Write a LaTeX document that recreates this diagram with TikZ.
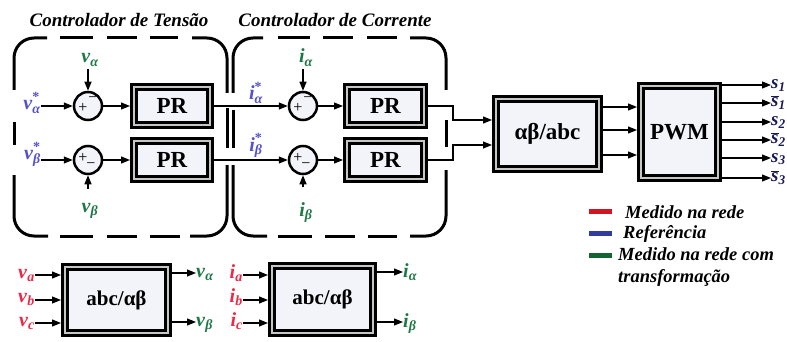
\documentclass[tikz,border=0pt]{standalone}
\usepackage{fontspec}
\setmainfont{Liberation Serif}
\usetikzlibrary{arrows.meta}
\definecolor{lav}{RGB}{243,243,250}
\definecolor{lblue}{RGB}{85,80,205}
\definecolor{lgreen}{RGB}{30,120,70}
\definecolor{lred}{RGB}{235,40,70}
\definecolor{snavy}{RGB}{25,25,90}
\definecolor{legred}{RGB}{210,20,35}
\definecolor{legblue}{RGB}{50,60,160}
\definecolor{leggreen}{RGB}{20,100,50}
\newcommand\vsb[2]{\textit{#1}\textsubscript{\textit{#2}}}
\newcommand\vsbs[2]{\textit{#1}\rlap{\raisebox{0.42em}{\fontsize{14}{14}\selectfont\bfseries *}}\textsubscript{\textit{#2}}}
\newcommand\sbr[1]{$\overline{\mbox{\textit{s}}}$\textsubscript{\textit{#1}}}
\begin{document}
\begin{tikzpicture}[x=1pt,y=-1pt,
  title/.style={font=\fontsize{19}{21}\selectfont\bfseries\itshape, inner sep=0pt},
  lbl/.style={font=\fontsize{20}{22}\selectfont\bfseries, inner sep=0pt},
  slbl/.style={font=\fontsize{19}{20}\selectfont\bfseries, inner sep=0pt, text=snavy},
  legtxt/.style={font=\fontsize{18.5}{19}\selectfont\bfseries\itshape, inner sep=0pt, anchor=base west},
  legbar/.style={rectangle, minimum width=23pt, minimum height=5pt, inner sep=0pt},
  blk/.style={rectangle, fill=lav, draw=black, line width=3.2pt, double=white!55!gray,
     double distance=1.6pt, outer sep=4pt, inner sep=0pt, font=\fontsize{23}{25}\selectfont\bfseries},
  sum/.style={circle, draw, line width=2.5pt, fill=lav, minimum size=28pt, inner sep=0pt},
  sgn/.style={font=\fontsize{16}{16}\selectfont, inner sep=0pt},
  arr/.style={line width=1.2pt, -{Triangle[length=9pt,width=7pt]}},
  ln/.style={line width=1.2pt},
  dbox/.style={line width=3pt, rounded corners=20pt}]
\useasboundingbox (0,0) rectangle (787,342);

% titles
\node[title] (t1) at (119,20) {Controlador de Tensão};
\node[title] (t2) at (335,20) {Controlador de Corrente};

% dashed box 1
\draw[dbox] (14,90) -- (14,38) -- (47,38);
\draw[dbox] (60,38) -- (93,38);
\draw[dbox] (107,38) -- (137,38);
\draw[dbox] (150,38) -- (178,38);
\draw[dbox] (192,38) -- (227,38) -- (227,93);
\draw[dbox] (227,108) -- (227,148);
\draw[dbox] (227,165) -- (227,236) -- (190,236);
\draw[dbox] (150,236) -- (180,236);
\draw[dbox] (107,236) -- (137,236);
\draw[dbox] (60,236) -- (93,236);
\draw[dbox] (48,236) -- (14,236) -- (14,175);
\draw[dbox] (14,122) -- (14,145);
% dashed box 2
\draw[dbox] (233,93) -- (233,38) -- (263,38);
\draw[dbox] (278,38) -- (310,38);
\draw[dbox] (323,38) -- (353,38);
\draw[dbox] (367,38) -- (397,38);
\draw[dbox] (410,38) -- (446,38) -- (446,90);
\draw[dbox] (446,120) -- (446,147);
\draw[dbox] (446,170) -- (446,236) -- (410,236);
\draw[dbox] (368,236) -- (397,236);
\draw[dbox] (325,236) -- (355,236);
\draw[dbox] (278,236) -- (312,236);
\draw[dbox] (267,236) -- (233,236) -- (233,165);
\draw[dbox] (233,110) -- (233,148);

% summing junctions
\node[sum] (c1) at (88,106) {};
\node[sum] (c2) at (88,160) {};
\node[sum] (c3) at (303,106) {};
\node[sum] (c4) at (303,160) {};
\node[sgn, xshift=-5pt, yshift=-2pt] (c1p) at (c1) {+};
\node[sgn, xshift=5pt, yshift=6pt] (c1m) at (c1) {−};
\node[sgn, xshift=-5pt, yshift=2pt] (c2p) at (c2) {+};
\node[sgn, xshift=3pt, yshift=-6pt] (c2m) at (c2) {−};
\node[sgn, xshift=-5pt, yshift=-2pt] (c3p) at (c3) {+};
\node[sgn, xshift=5pt, yshift=6pt] (c3m) at (c3) {−};
\node[sgn, xshift=-5pt, yshift=2pt] (c4p) at (c4) {+};
\node[sgn, xshift=3pt, yshift=-6pt] (c4m) at (c4) {−};

% PR blocks
\node[blk, minimum width=76pt, minimum height=38pt] (p1) at (172,106) {PR};
\node[blk, minimum width=76pt, minimum height=38pt] (p2) at (172,160) {PR};
\node[blk, minimum width=77pt, minimum height=38pt] (p3) at (385.5,106) {PR};
\node[blk, minimum width=77pt, minimum height=38pt] (p4) at (385.5,160) {PR};

% other blocks
\node[blk, minimum width=103pt, minimum height=70pt] (ab) at (547.5,134) {αβ/abc};
\node[blk, minimum width=77pt, minimum height=92pt, font=\fontsize{23}{25}\selectfont\bfseries] (pwm) at (679.5,132) {PWM};
\node[blk, minimum width=103pt, minimum height=66pt, font=\fontsize{21}{23}\selectfont\bfseries] (b1) at (116.5,300) {abc/αβ};
\node[blk, minimum width=101pt, minimum height=67pt, font=\fontsize{21}{23}\selectfont\bfseries] (b2) at (322.5,299.5) {abc/αβ};

% labels of voltage loop
\node[lbl, text=lblue, anchor=base east] (vas) at (41,110) {\vsbs{v}{α}};
\node[lbl, text=lblue, anchor=base east] (vbs) at (41,160) {\vsbs{v}{β}};
\node[lbl, text=lgreen, anchor=base] (lva) at (90,63) {\vsb{v}{α}};
\node[lbl, text=lgreen, anchor=base] (lvb) at (90,212) {\vsb{v}{β}};
\draw[arr] (vas.east |- c1) -- (c1);
\draw[arr] (vbs.east |- c2) -- (c2);
\draw[arr, shorten <=3pt] (c1 |- lva.south) -- (c1);
\draw[arr, shorten <=14pt] (c2 |- lvb.north) -- (c2);
\draw[arr] (c1) -- (p1);
\draw[arr] (c2) -- (p2);

% labels of current loop
\node[lbl, text=lblue, anchor=base] (ias) at (256,100) {\vsbs{i}{α}};
\node[lbl, text=lblue, anchor=base] (ibs) at (256,151) {\vsbs{i}{β}};
\node[lbl, text=lgreen, anchor=base] (lia) at (306,63) {\vsb{i}{α}};
\node[lbl, text=lgreen, anchor=base] (lib) at (306,216) {\vsb{i}{β}};
\draw[arr] (p1) -- (c3);
\draw[arr] (p2) -- (c4);
\draw[arr, shorten <=3pt] (c3 |- lia.south) -- (c3);
\draw[arr, shorten <=15pt] (c4 |- lib.north) -- (c4);
\draw[arr] (c3) -- (p3);
\draw[arr] (c4) -- (p4);

% to alpha-beta/abc and PWM
\draw[arr] (p3.east) -- ++(25,0) |- (ab.west |- 0,120);
\draw[arr] (p4.east) -- ++(25,0) |- (ab.west |- 0,145);
\draw[arr] (ab.east |- 0,107) -- (pwm.west |- 0,107);
\draw[arr] (ab.east |- 0,130) -- (pwm.west |- 0,130);
\draw[arr] (ab.east |- 0,155) -- (pwm.west |- 0,155);

% PWM outputs
\node[slbl, anchor=base west] (s1) at (771,89) {\vsb{s}{1}};
\node[slbl, anchor=base west] (s1b) at (771,107) {\sbr{1}};
\node[slbl, anchor=base west] (s2) at (771,126) {\vsb{s}{2}};
\node[slbl, anchor=base west] (s2b) at (771,144) {\sbr{2}};
\node[slbl, anchor=base west] (s3) at (771,162) {\vsb{s}{3}};
\node[slbl, anchor=base west] (s3b) at (771,182) {\sbr{3}};
\draw[arr] (pwm.east |- 0,85) -- (s1.west |- 0,85);
\draw[arr] (pwm.east |- 0,103) -- (s1b.west |- 0,103);
\draw[arr] (pwm.east |- 0,122) -- (s2.west |- 0,122);
\draw[arr] (pwm.east |- 0,140) -- (s2b.west |- 0,140);
\draw[arr] (pwm.east |- 0,158) -- (s3.west |- 0,158);
\draw[arr] (pwm.east |- 0,178) -- (s3b.west |- 0,178);

% legend
\node[legbar, fill=legred] (k1) at (600.5,211) {};
\node[legbar, fill=legblue] (k2) at (600.5,233) {};
\node[legbar, fill=leggreen] (k3) at (600.5,255) {};
\node[legtxt] (m1) at (625,218) {Medido na rede};
\node[legtxt] (m2) at (623,238) {Referência};
\node[legtxt] (m3) at (618,260) {Medido na rede com};
\node[legtxt] (m4) at (618,282) {transformação};

% bottom transforms
\node[lbl, text=lred, anchor=base east] (va) at (35,278) {\vsb{v}{a}};
\node[lbl, text=lred, anchor=base east] (vb) at (35,302) {\vsb{v}{b}};
\node[lbl, text=lred, anchor=base east] (vc) at (35,326) {\vsb{v}{c}};
\draw[arr] (va.east |- 0,275) -- (b1.west |- 0,275);
\draw[arr] (vb.east |- 0,300) -- (b1.west |- 0,300);
\draw[arr] (vc.east |- 0,323) -- (b1.west |- 0,323);
\node[lbl, text=lgreen, anchor=base west] (voa) at (196,277) {\vsb{v}{α}};
\node[lbl, text=lgreen, anchor=base west] (vob) at (196,326) {\vsb{v}{β}};
\draw[arr] (b1.east |- 0,273) -- (voa.west |- 0,273);
\draw[arr] (b1.east |- 0,322) -- (vob.west |- 0,322);

\node[lbl, text=lred, anchor=base east] (ia) at (243,278) {\vsb{i}{a}};
\node[lbl, text=lred, anchor=base east] (ib) at (243,302) {\vsb{i}{b}};
\node[lbl, text=lred, anchor=base east] (ic) at (243,326) {\vsb{i}{c}};
\draw[arr] (ia.east |- 0,275) -- (b2.west |- 0,275);
\draw[arr] (ib.east |- 0,300) -- (b2.west |- 0,300);
\draw[arr] (ic.east |- 0,323) -- (b2.west |- 0,323);
\node[lbl, text=lgreen, anchor=base west] (ioa) at (403,277) {\vsb{i}{α}};
\node[lbl, text=lgreen, anchor=base west] (iob) at (403,327) {\vsb{i}{β}};
\draw[arr] (b2.east |- 0,272) -- (ioa.west |- 0,272);
\draw[arr] (b2.east |- 0,322) -- (iob.west |- 0,322);
\end{tikzpicture}
\end{document}
